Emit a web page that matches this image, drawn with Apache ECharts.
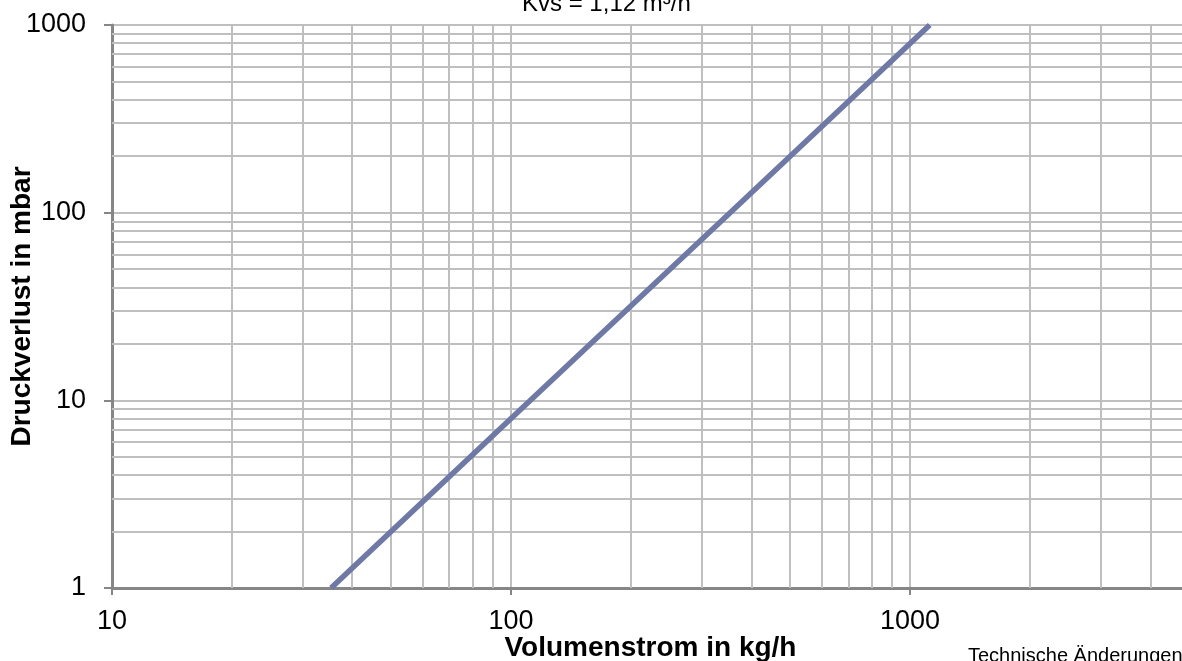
<!DOCTYPE html>
<html>
<head>
<meta charset="utf-8">
<script src="https://cdn.jsdelivr.net/npm/echarts@6/dist/echarts.min.js"></script>
<style>html,body{margin:0;padding:0;background:#fff;}#c{width:1182px;height:661px;}</style>
</head>
<body>
<div id="c"></div>
<script>
// Values
const titleText = 'Kvs = 1,12 m³/h';
const xName = 'Volumenstrom in kg/h';
const yName = 'Druckverlust in mbar';
const footText = 'Technische Änderungen';
// Pressure loss curve points [kg/h, mbar]
const flow = [35.4, 100, 354, 1120];
const loss = [1, 8, 100, 1000];
// Minor grid positions
const xMinor = [20, 30, 40, 50, 60, 70, 80, 90, 200, 300, 400, 500, 600, 700, 800, 900, 2000, 3000, 4000];
const yMinor = [2, 3, 4, 5, 6, 7, 8, 9, 20, 30, 40, 50, 60, 70, 80, 90, 200, 300, 400, 500, 600, 700, 800, 900];
const xMajorLabels = [10, 100, 1000];
const yMajorLabels = [1, 10, 100, 1000];

const font = '"Liberation Sans", Arial, sans-serif';
const gridColor = '#bfbfbf';
const axisColor = '#868686';

const chart = echarts.init(document.getElementById('c'), null, {renderer: 'canvas'});
chart.setOption({
  animation: false,
  backgroundColor: '#fff',
  title: {
    text: titleText, left: 517, top: -13,
    textStyle: {fontFamily: font, fontSize: 24, fontWeight: 'normal', color: '#000'}
  },
  graphic: [{
    type: 'text', left: 968, top: 646,
    style: {text: footText, font: '20px ' + font, fill: '#000'}
  }],
  grid: {left: 112, top: 25, width: 1077, height: 563, containLabel: false, outerBoundsMode: 'none'},
  xAxis: {
    type: 'log', logBase: 10, min: 10, max: 5000,
    name: xName, nameLocation: 'middle', nameGap: 46, nameMoveOverlap: false,
    nameTextStyle: {fontFamily: font, fontSize: 28, fontWeight: 'bold', color: '#000'},
    axisLine: {show: true, lineStyle: {color: axisColor, width: 3}},
    axisTick: {show: true, length: 7, lineStyle: {color: axisColor, width: 2}},
    axisLabel: {
      fontFamily: font, fontSize: 27, color: '#000', margin: 20,
      formatter: v => (xMajorLabels.indexOf(Math.round(v)) >= 0 ? String(Math.round(v)) : '')
    },
    splitLine: {show: true, lineStyle: {color: gridColor, width: 2}}
  },
  yAxis: {
    type: 'log', logBase: 10, min: 1, max: 1000,
    name: yName, nameLocation: 'middle', nameGap: 76, nameRotate: 90, nameMoveOverlap: false,
    nameTextStyle: {fontFamily: font, fontSize: 28, fontWeight: 'bold', color: '#000'},
    axisLine: {show: true, lineStyle: {color: axisColor, width: 3}},
    axisTick: {show: true, length: 8, lineStyle: {color: axisColor, width: 2}},
    axisLabel: {
      fontFamily: font, fontSize: 27, color: '#000', margin: 26,
      formatter: v => (yMajorLabels.indexOf(Math.round(v)) >= 0 ? String(Math.round(v)) : '')
    },
    splitLine: {show: true, lineStyle: {color: gridColor, width: 2}}
  },
  series: [
    {
      type: 'line', data: [], z: 1, silent: true,
      markLine: {
        silent: true, symbol: ['none', 'none'], animation: false,
        label: {show: false},
        lineStyle: {color: gridColor, width: 2, type: 'solid'},
        emphasis: {disabled: true},
        data: xMinor.map(v => ({xAxis: v})).concat(yMinor.map(v => ({yAxis: v})))
      }
    },
    {
      type: 'line', z: 5, symbol: 'none', clip: true,
      lineStyle: {color: '#6e79a6', width: 5.5},
      data: flow.map((f, i) => [f, loss[i]])
    }
  ]
});
</script>
</body>
</html>
